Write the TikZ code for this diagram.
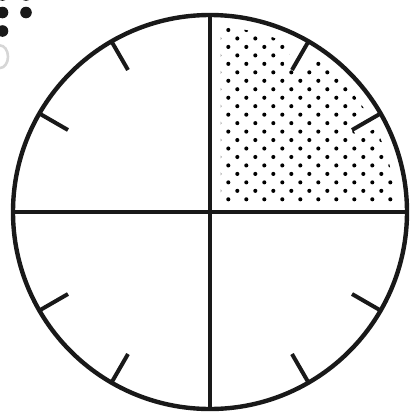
\documentclass[tikz,border=0pt]{standalone}
\definecolor{ink}{rgb}{0.10,0.10,0.10}
\definecolor{ghost}{rgb}{0.84,0.84,0.84}
\tikzset{
  rim/.style={draw=ink, line width=4.4pt},
  cross/.style={draw=ink, line width=4pt},
  tick/.style={draw=ink, line width=4pt},
  halo/.style={draw=white, line width=20pt, line cap=butt},
  dot/.style={fill=black},
}
\begin{document}
\begin{tikzpicture}[x=1pt,y=-1pt]
\useasboundingbox (0,0) rectangle (414,418);
\coordinate (c) at (210,212);
% dotted quadrant
\begin{scope}
  \clip (220.8,201.5) rectangle (414,0);
  \clip (c) circle (185.5pt);
  \foreach \j in {0,...,20}{
    \pgfmathsetmacro\yy{30+8.465*\j}
    \pgfmathsetmacro\off{mod(\j,2)*9}
    \foreach \i in {-1,...,10}{
      \fill[dot] (228.3+18*\i+\off,\yy) circle (2.05pt);
    }
  }
\end{scope}
% white halos round the ticks in the dotted quadrant
\foreach \a in {300,330}{
  \draw[halo,shift={(c)}] (\a:165) -- (\a:196);
}
% outer circle and cross
\draw[rim] (c) circle (197pt);
\coordinate (top) at (210,15);
\coordinate (bot) at (210,409);
\coordinate (lft) at (13,212);
\coordinate (rgt) at (407,212);
\draw[cross] (top) -- (bot);
\draw[cross] (lft) -- (rgt);
% ticks
\foreach \a in {30,60,120,150,210,240,300,330}{
  \draw[tick,shift={(c)}] (\a:164) -- (\a:197);
}
% cropped marks in the top-left corner
\fill[ink] (2.5,-5) circle (5.8pt);
\fill[ink] (26,-5) circle (5.8pt);
\fill[ink] (2.5,12.5) circle (5.8pt);
\fill[ink] (26,12.5) circle (5.8pt);
\fill[ink] (2.5,31) circle (5.8pt);
\draw[ghost, line width=2.6pt] (0,56.7) ellipse (8pt and 11.3pt);
\end{tikzpicture}
\end{document}
